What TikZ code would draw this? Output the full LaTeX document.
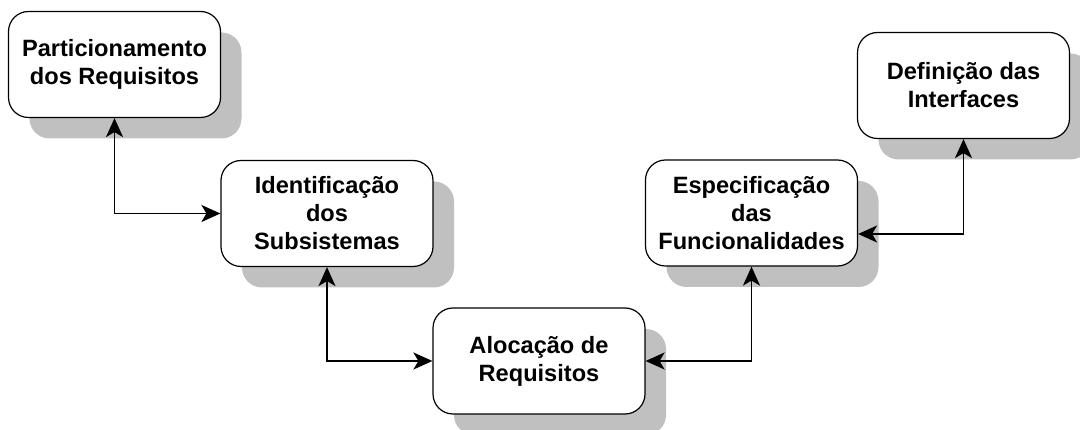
\documentclass[tikz,border=0pt]{standalone}
\usepackage{fontspec}
\setmainfont{Liberation Sans}
\usetikzlibrary{arrows.meta,shadows}
\definecolor{shadowgray}{RGB}{192,192,192}
\tikzset{
  box/.style={draw=black, line width=1.2pt, fill=white, rounded corners=20pt,
    minimum width=212pt, minimum height=106pt, align=center,
    font=\bfseries\fontsize{23.6}{28}\selectfont, inner sep=0pt,
    drop shadow={shadow xshift=21pt, shadow yshift=-21pt, fill=shadowgray, opacity=1, draw=none}},
  link/.style={line width=1.9pt, {Stealth[length=19pt,width=17pt,inset=5pt]}-{Stealth[length=19pt,width=17pt,inset=5pt]}}
}
\begin{document}
\begin{tikzpicture}[x=1pt,y=-1pt]
\useasboundingbox (0,0) rectangle (1080,430);
\node[box] (a) at (114.5,64.5) {Particionamento\\dos Requisitos};
\node[box] (b) at (327,213.5) {Identificação\\dos\\Subsistemas};
\node[box] (c) at (539,361) {Alocação de\\Requisitos};
\node[box] (d) at (751.5,213) {Especificação\\das\\Funcionalidades};
\node[box] (e) at (963.5,85.5) {Definição das\\Interfaces};
\draw[link] (a.south) |- (b.west);
\draw[link] (b.south) |- (c.west);
\draw[link] (c.east) -| (d.south);
\coordinate (dr) at ([yshift=-21pt]d.east);
\draw[link] (dr) -| (e.south);
\end{tikzpicture}
\end{document}
